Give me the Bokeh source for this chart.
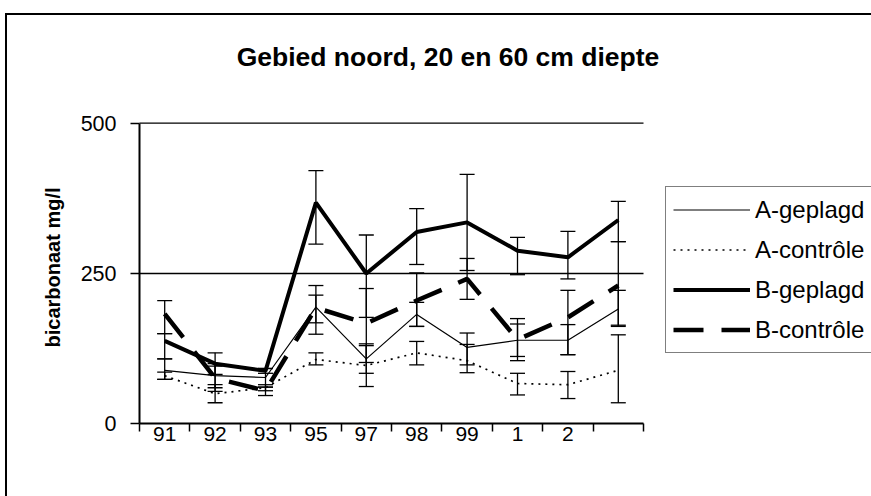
import math
from bokeh.plotting import figure
from bokeh.models import (Range1d, FixedTicker, LinearAxis, Legend, LegendItem, Whisker,
                          ColumnDataSource, TeeHead, Label)
from bokeh.embed import file_html
from bokeh.resources import INLINE

# ---- data ----
categories = ["91", "92", "93", "95", "97", "98", "99", "1", "2", ""]
y_ticks = [0, 250, 500]
y_max = 500

a_geplagd = [89, 80, 77, 194, 108, 182, 127, 139, 139, 191]
a_geplagd_lo = [74, 60, 61, 168, 84, 162, 98, 112, 115, 164]
a_geplagd_hi = [108, 100, 92, 214, 133, 202, 151, 166, 165, 222]

a_controle = [80, 50, 60, 107, 97, 118, 105, 67, 65, 89]
a_controle_lo = [74, 35, 55, 98, 62, 98, 85, 48, 42, 35]
a_controle_hi = [86, 65, 65, 118, 130, 137, 132, 84, 87, 148]

b_geplagd = [138, 100, 88, 368, 250, 319, 335, 288, 277, 339]
b_geplagd_lo = [108, 82, 84, 299, 177, 265, 255, 248, 241, 303]
b_geplagd_hi = [150, 118, 92, 421, 314, 358, 415, 310, 320, 370]

b_controle = [183, 76, 55, 193, 167, 205, 241, 140, 177, 230]
b_controle_lo = [150, 54, 47, 149, 102, 162, 207, 105, 115, 162]
b_controle_hi = [205, 96, 61, 230, 225, 251, 275, 175, 222, 303]

FONT = "Liberation Sans"

# ---- layout (pixels, from the top-left of the picture) ----
W, H = 871, 496
LEFT_PX = 139         # x pixel of the category area's left edge
ZERO_PX = 423.3       # y pixel of value 0
TOP_PX = 122.7        # y pixel of value 500
CAT_PX = 50.4         # width of one category

n = len(categories)
x = list(range(n))
boundaries = [i - 0.5 for i in range(n + 1)]
px_per_unit = (ZERO_PX - TOP_PX) / y_max
x_start = -0.5 - LEFT_PX / CAT_PX
x_end = -0.5 + (W - LEFT_PX) / CAT_PX
y_start = -(H - ZERO_PX) / px_per_unit
y_end = ZERO_PX / px_per_unit

p = figure(width=W, height=H,
           x_range=Range1d(x_start, x_end), y_range=Range1d(y_start, y_end),
           x_axis_type=None, y_axis_type=None,
           output_backend="svg", toolbar_location=None,
           min_border_left=0, min_border_right=0, min_border_top=0, min_border_bottom=0,
           background_fill_alpha=0, border_fill_alpha=0, outline_line_color=None)

# outer chart border (left and top edges; the rest lies outside the picture)
p.styles = {
    "background": "linear-gradient(#000,#000) 5px 13px / 100% 2px no-repeat, "
                  "linear-gradient(#000,#000) 5px 13px / 2px 100% no-repeat, #fff",
}

# title
p.add_layout(Label(x=447.5, y=H - 56, x_units="screen", y_units="screen",
                   text="Gebied noord, 20 en 60 cm diepte", text_align="center",
                   text_baseline="alphabetic", text_font=FONT, text_font_size="26.5px",
                   text_font_style="bold", text_color="black"))

# y axis title
p.add_layout(Label(x=52, y=H - 267, x_units="screen", y_units="screen",
                   text="bicarbonaat mg/l", angle=math.pi / 2,
                   text_align="center", text_baseline="middle", text_font=FONT,
                   text_font_size="20px", text_font_style="bold", text_color="black"))

# horizontal grid lines (over the category area only)
p.segment(x0=[boundaries[0]] * 2, x1=[boundaries[-1]] * 2, y0=y_ticks[1:], y1=y_ticks[1:],
          line_color="black", line_width=1.3)

# axes (drawn at fixed data positions)
xaxis = LinearAxis(ticker=FixedTicker(ticks=x, minor_ticks=boundaries),
                   major_label_overrides={i: c for i, c in enumerate(categories)},
                   bounds=(boundaries[0], boundaries[-1]), fixed_location=0)
xaxis.major_tick_line_color = None
xaxis.major_tick_out = 0
xaxis.major_tick_in = 0
xaxis.minor_tick_line_color = "black"
xaxis.minor_tick_line_width = 1.5
xaxis.minor_tick_out = 8
xaxis.minor_tick_in = 0
xaxis.axis_line_width = 2
xaxis.axis_line_color = "black"
xaxis.major_label_text_font = FONT
xaxis.major_label_text_font_size = "21px"
xaxis.major_label_text_color = "black"
xaxis.major_label_standoff = -5
p.add_layout(xaxis, "below")

yaxis = LinearAxis(ticker=FixedTicker(ticks=y_ticks), bounds=(0, y_max),
                   fixed_location=boundaries[0])
yaxis.major_tick_out = 9
yaxis.major_tick_in = 0
yaxis.major_tick_line_width = 1.5
yaxis.major_tick_line_color = "black"
yaxis.minor_tick_line_color = None
yaxis.axis_line_width = 2
yaxis.axis_line_color = "black"
yaxis.major_label_text_font = FONT
yaxis.major_label_text_font_size = "21.5px"
yaxis.major_label_text_color = "black"
yaxis.major_label_standoff = 14
p.add_layout(yaxis, "left")

# error bars
for lo, hi in [(a_geplagd_lo, a_geplagd_hi), (a_controle_lo, a_controle_hi),
               (b_geplagd_lo, b_geplagd_hi), (b_controle_lo, b_controle_hi)]:
    src = ColumnDataSource(dict(x=x, lo=lo, hi=hi))
    w = Whisker(source=src, base="x", lower="lo", upper="hi", dimension="height",
                line_color="black", line_width=1.3,
                upper_head=TeeHead(size=15, line_color="black", line_width=1.3),
                lower_head=TeeHead(size=15, line_color="black", line_width=1.3))
    p.add_layout(w)

# series
r1 = p.line(x, a_geplagd, line_color="black", line_width=1.2)
r2 = p.line(x, a_controle, line_color="black", line_width=1.7, line_dash="2 5")
r3 = p.line(x, b_geplagd, line_color="black", line_width=4)
r4 = p.line(x, b_controle, line_color="black", line_width=4.5, line_dash="30 18")

legend = Legend(items=[LegendItem(label="A-geplagd", renderers=[r1]),
                       LegendItem(label="A-contrôle", renderers=[r2]),
                       LegendItem(label="B-geplagd", renderers=[r3]),
                       LegendItem(label="B-contrôle", renderers=[r4])],
                location=(665, H - 353), orientation="vertical",
                glyph_width=77, glyph_height=31, label_height=31, label_width=130,
                spacing=9, padding=7, margin=0, label_standoff=5,
                label_text_font=FONT, label_text_font_size="24px", label_text_color="black",
                border_line_color="black", border_line_width=1.5,
                background_fill_color="white", background_fill_alpha=1)
p.add_layout(legend)

open("out.html", "w").write(file_html(p, INLINE))
